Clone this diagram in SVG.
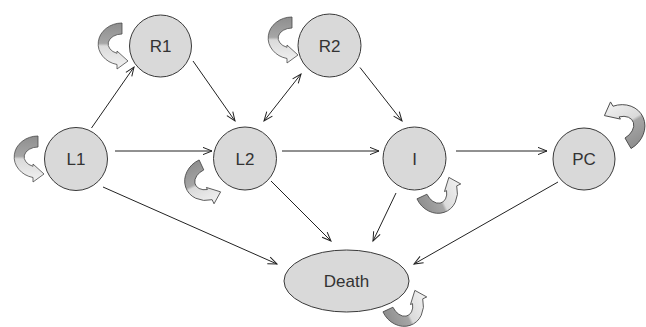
<svg xmlns="http://www.w3.org/2000/svg" width="646" height="327" viewBox="0 0 646 327">
<style>
.node{fill:#d9d9d9;stroke:#3a3a3a;stroke-width:1}
.lbl{font-family:"Liberation Sans",Arial,sans-serif;font-size:17px;fill:#333;text-anchor:middle}
.edge{stroke:#222;stroke-width:1;fill:none;marker-end:url(#ah)}
.loop{fill:url(#lg);stroke:#4a4a4a;stroke-width:0.8;stroke-linejoin:round}
</style>
<defs>
<marker id="ah" markerUnits="userSpaceOnUse" markerWidth="12" markerHeight="10" viewBox="-10 -5 12 10" refX="0" refY="0" orient="auto-start-reverse">
<path d="M-9,-3.6 L0,0 L-9,3.6" fill="none" stroke="#222" stroke-width="1"/>
</marker>
<linearGradient id="lg" gradientUnits="userSpaceOnUse" x1="0" y1="-21" x2="0" y2="25">
<stop offset="0" stop-color="#8e8e8e"/>
<stop offset="0.44" stop-color="#a6a6a6"/>
<stop offset="0.5" stop-color="#dadada"/>
<stop offset="1" stop-color="#f2f2f2"/>
</linearGradient>
<path id="cv" d="M0,-21 A24,21 0 0 0 -5,20.5 L-5,25 L6,17 L-5,7 L-5,9.3 A14,10 0 0 1 0,-10 Z"/>
</defs>
<g id="connectors">
<line class="edge" x1="91.5" y1="128" x2="134" y2="67"/>
<line class="edge" x1="193" y1="61" x2="235" y2="121"/>
<line class="edge" x1="115" y1="151" x2="212" y2="151"/>
<line class="edge" x1="264" y1="121" x2="301" y2="74" marker-start="url(#ah)"/>
<line class="edge" x1="360" y1="67.5" x2="402" y2="121"/>
<line class="edge" x1="282" y1="151" x2="379" y2="151"/>
<line class="edge" x1="456" y1="151" x2="547" y2="151"/>
<line class="edge" x1="103" y1="187" x2="277" y2="264"/>
<line class="edge" x1="271" y1="181" x2="331" y2="241"/>
<line class="edge" x1="396" y1="193" x2="373" y2="241"/>
<line class="edge" x1="558" y1="182" x2="414" y2="264"/>
</g>
<g id="loops">
<use class="loop" href="#cv" transform="translate(122,44)"/>
<use class="loop" href="#cv" transform="translate(38,157)"/>
<use class="loop" href="#cv" transform="translate(292,38)"/>
<use class="loop" href="#cv" transform="translate(208,179) rotate(-25)"/>
<use class="loop" href="#cv" transform="translate(436,190) rotate(-115)"/>
<use class="loop" href="#cv" transform="translate(402,303) rotate(-115)"/>
<use class="loop" href="#cv" transform="translate(619.5,128.5) rotate(150) scale(1.1)"/>
</g>
<g id="R1"><circle class="node" cx="160.5" cy="46" r="31"/><text class="lbl" x="160.5" y="52">R1</text></g>
<g id="R2"><circle class="node" cx="329.5" cy="45.5" r="31.5"/><text class="lbl" x="329.5" y="51.5">R2</text></g>
<g id="L1"><circle class="node" cx="76" cy="159" r="31.5"/><text class="lbl" x="76" y="165">L1</text></g>
<g id="L2"><circle class="node" cx="245" cy="158.5" r="31.5"/><text class="lbl" x="245" y="164.5">L2</text></g>
<g id="I"><circle class="node" cx="414.5" cy="158.5" r="31.5"/><text class="lbl" x="414.5" y="164.5">I</text></g>
<g id="PC"><circle class="node" cx="584" cy="159" r="31"/><text class="lbl" x="584" y="165">PC</text></g>
<g id="Death"><ellipse class="node" cx="346.5" cy="281" rx="62.5" ry="31"/><text class="lbl" x="346.5" y="287">Death</text></g>
</svg>
